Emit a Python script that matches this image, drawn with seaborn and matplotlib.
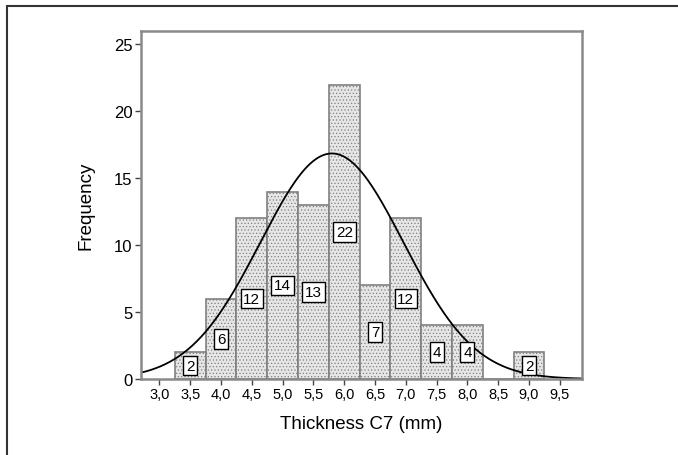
import numpy as np
import pandas as pd
import matplotlib
matplotlib.use('Agg')
import matplotlib.pyplot as plt
import seaborn as sns
from matplotlib.patches import Rectangle

# Histogram data (bin centres, counts)
bin_centers = [3.5, 4.0, 4.5, 5.0, 5.5, 6.0, 6.5, 7.0, 7.5, 8.0, 8.5, 9.0]
counts = [2, 6, 12, 14, 13, 22, 7, 12, 4, 4, 0, 2]
bin_width = 0.5

# Fitted normal curve parameters (estimated from the curve)
fit_mean = 5.8
fit_sd = 1.16

x_ticks = [3.0, 3.5, 4.0, 4.5, 5.0, 5.5, 6.0, 6.5, 7.0, 7.5, 8.0, 8.5, 9.0, 9.5]
y_ticks = [0, 5, 10, 15, 20, 25]

sns.set_style('white')
plt.rcParams['font.family'] = ['Liberation Sans', 'DejaVu Sans']
plt.rcParams['hatch.color'] = '#d6d6d6'
plt.rcParams['hatch.linewidth'] = 0.5
plt.rcParams['text.color'] = 'black'
plt.rcParams['axes.labelcolor'] = 'black'
plt.rcParams['xtick.color'] = 'black'
plt.rcParams['ytick.color'] = 'black'

fig = plt.figure(figsize=(6.78, 4.56), dpi=100)
ax = fig.add_axes([141 / 678, 76 / 456, 441 / 678, 348 / 456])

df = pd.DataFrame({'thickness': bin_centers, 'count': counts})
sns.histplot(data=df, x='thickness', weights='count', binwidth=bin_width,
             binrange=(bin_centers[0] - bin_width / 2, bin_centers[-1] + bin_width / 2), ax=ax,
             color='#e6e6e6', alpha=1, edgecolor='#808080', linewidth=1.2)
for p in ax.patches:
    p.set_hatch('.....')

# normal curve scaled to counts
n_total = sum(counts)
xs = np.linspace(2.6, 9.95, 300)
ys = n_total * bin_width * np.exp(-0.5 * ((xs - fit_mean) / fit_sd) ** 2) / (fit_sd * np.sqrt(2 * np.pi))
sns.lineplot(x=xs, y=ys, ax=ax, color='black', linewidth=1.3)

# boxed count labels
for c, n in zip(bin_centers, counts):
    if n == 0:
        continue
    ax.text(c, n / 2, str(n), ha='center', va='center', fontsize=11,
            bbox=dict(boxstyle='square,pad=0.18', facecolor='white', edgecolor='black', linewidth=1))

ax.set_xlim(2.7, 9.86)
ax.set_ylim(0, 26)
ax.set_xticks(x_ticks)
ax.set_xticklabels([f'{t:.1f}'.replace('.', ',') for t in x_ticks], fontsize=10.5)
ax.set_yticks(y_ticks)
ax.set_yticklabels([str(t) for t in y_ticks], fontsize=12)
ax.tick_params(axis='both', length=4, width=1, colors='black', direction='out',
               bottom=True, left=True, pad=2)
ax.tick_params(axis='both', color='#444444')
for s in ax.spines.values():
    s.set_color('#8a8a8a')
    s.set_linewidth(1.8)
ax.set_xlabel('Thickness C7 (mm)', fontsize=13.5, labelpad=10)
ax.set_ylabel('Frequency', fontsize=13.5, labelpad=14)

# outer frame around the figure
fig.patches.append(Rectangle((7 / 678, -0.1), 1.2, 1.1 - 7 / 456, transform=fig.transFigure,
                             fill=False, edgecolor='#333333', linewidth=1.5, clip_on=False))

fig.savefig('out.png', dpi=100)
